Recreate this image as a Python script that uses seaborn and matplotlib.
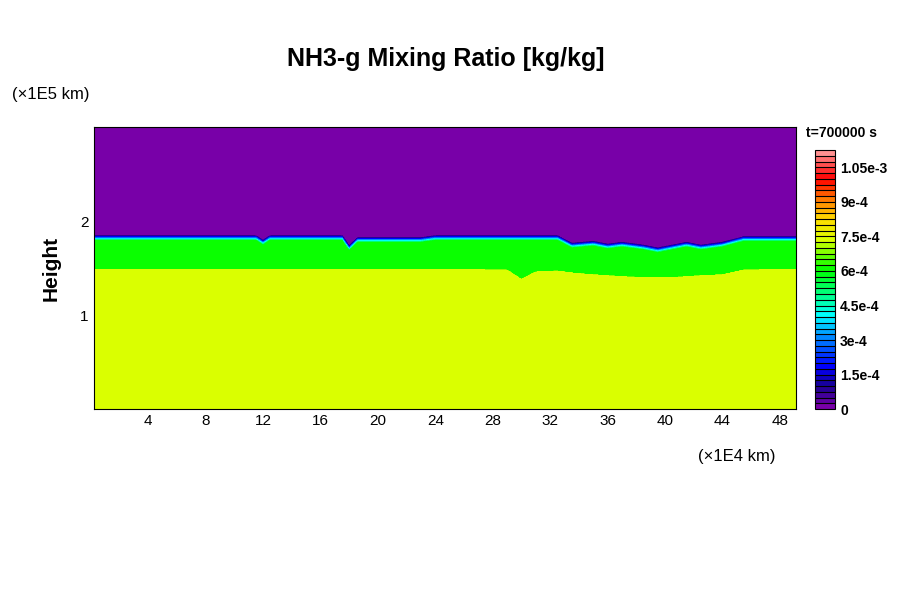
import matplotlib
matplotlib.use("Agg")
import matplotlib.pyplot as plt
import seaborn as sns
import numpy as np
from matplotlib.colors import LinearSegmentedColormap, BoundaryNorm

sns.set_style("white")
plt.rcParams['font.family'] = ['Liberation Sans', 'DejaVu Sans']
plt.rcParams['text.color'] = 'black'
plt.rcParams['xtick.color'] = 'black'
plt.rcParams['ytick.color'] = 'black'
plt.rcParams['axes.labelcolor'] = 'black'

# interface profiles (x in 1E4 km, height in 1E5 km)
knot_x = [0.2, 11.5, 12.0, 12.5, 17.5, 18.0, 18.6, 23, 24, 29, 30, 31, 32.5, 33.5, 35, 36, 37, 38.5, 39.5, 40.5, 41.5, 42.5, 44, 45.5, 49.1]
top_h = [1.85, 1.85, 1.80, 1.85, 1.85, 1.74, 1.83, 1.83, 1.85, 1.85, 1.85, 1.85, 1.85, 1.77, 1.79, 1.76, 1.78, 1.75, 1.72, 1.75, 1.78, 1.75, 1.78, 1.84, 1.84]
low_h = [1.49, 1.49, 1.49, 1.49, 1.49, 1.49, 1.49, 1.49, 1.49, 1.48, 1.38, 1.46, 1.47, 1.45, 1.43, 1.42, 1.41, 1.40, 1.40, 1.40, 1.41, 1.42, 1.43, 1.48, 1.49]
green_val = 6.1e-4
yellow_val = 7.3e-4
band = 0.06
levels = np.arange(0, 1.125e-3 + 1e-9, 2.5e-5)
cbar_ticks = [0, 1.5e-4, 3e-4, 4.5e-4, 6e-4, 7.5e-4, 9e-4, 1.05e-3]
cbar_labels = ["0", "1.5e-4", "3e-4", "4.5e-4", "6e-4", "7.5e-4", "9e-4", "1.05e-3"]

x = np.linspace(0.2, 49.1, 600)
y = np.linspace(0, 3, 800)
X, Y = np.meshgrid(x, y)
ht = np.interp(x, knot_x, top_h)
hl = np.interp(x, knot_x, low_h)
Z = np.where(Y < hl, yellow_val, green_val)
frac = np.clip((ht - Y) / band, 0, 1)
Z = np.where(Y > ht - band, green_val * frac, Z)

cmap = LinearSegmentedColormap.from_list("dcl", [
    (0.0, "#7800a8"), (0.08, "#1a0090"), (0.16, "#0000ff"), (0.28, "#0090ff"),
    (0.36, "#00ffff"), (0.44, "#00ff88"), (0.54, "#00ff00"), (0.66, "#dcff00"),
    (0.74, "#ffdc00"), (0.82, "#ff7800"), (0.90, "#ff0000"), (1.0, "#ff9090")], N=len(levels) - 1)
norm = BoundaryNorm(levels, cmap.N)

fig = plt.figure(figsize=(9, 6), dpi=100)
ax = fig.add_axes([0.104, 0.318, 0.78, 0.47])
cs = ax.contourf(X, Y, Z, levels=levels, cmap=cmap, norm=norm)
ax.set_xlim(0.2, 49.1)
ax.set_ylim(0, 3)
ax.set_xticks(np.arange(4, 49, 4))
ax.set_xticks(np.arange(2, 49, 2), minor=True)
ax.set_yticks([1, 2])
ax.set_yticks(np.arange(0.25, 3, 0.25), minor=True)
ax.tick_params(direction="in", top=True, right=True, length=6, labelsize=11)
ax.tick_params(which="minor", direction="in", top=True, right=True, length=3)
ax.set_ylabel("Height", fontsize=15, fontweight="bold", labelpad=14)
for s in ax.spines.values():
    s.set_color("black")

fig.text(0.495, 0.89, "NH3-g Mixing Ratio [kg/kg]", ha="center", fontsize=18, fontweight="bold")
fig.text(0.013, 0.835, "(×1E5 km)", fontsize=12)
fig.text(0.775, 0.232, "(×1E4 km)", fontsize=12)
fig.text(0.895, 0.772, "t=700000 s", fontsize=10, fontweight="bold")

cax = fig.add_axes([0.906, 0.318, 0.022, 0.432])
cb = fig.colorbar(cs, cax=cax, ticks=cbar_ticks, drawedges=True)
cb.ax.minorticks_off()
cb.ax.set_yticklabels(cbar_labels)
cb.ax.tick_params(length=0, labelsize=10)
for t in cb.ax.get_yticklabels():
    t.set_fontweight("bold")
cb.outline.set_edgecolor("black")
cb.dividers.set_color("black")
cb.dividers.set_linewidth(0.8)

fig.savefig("out.png", dpi=100)
